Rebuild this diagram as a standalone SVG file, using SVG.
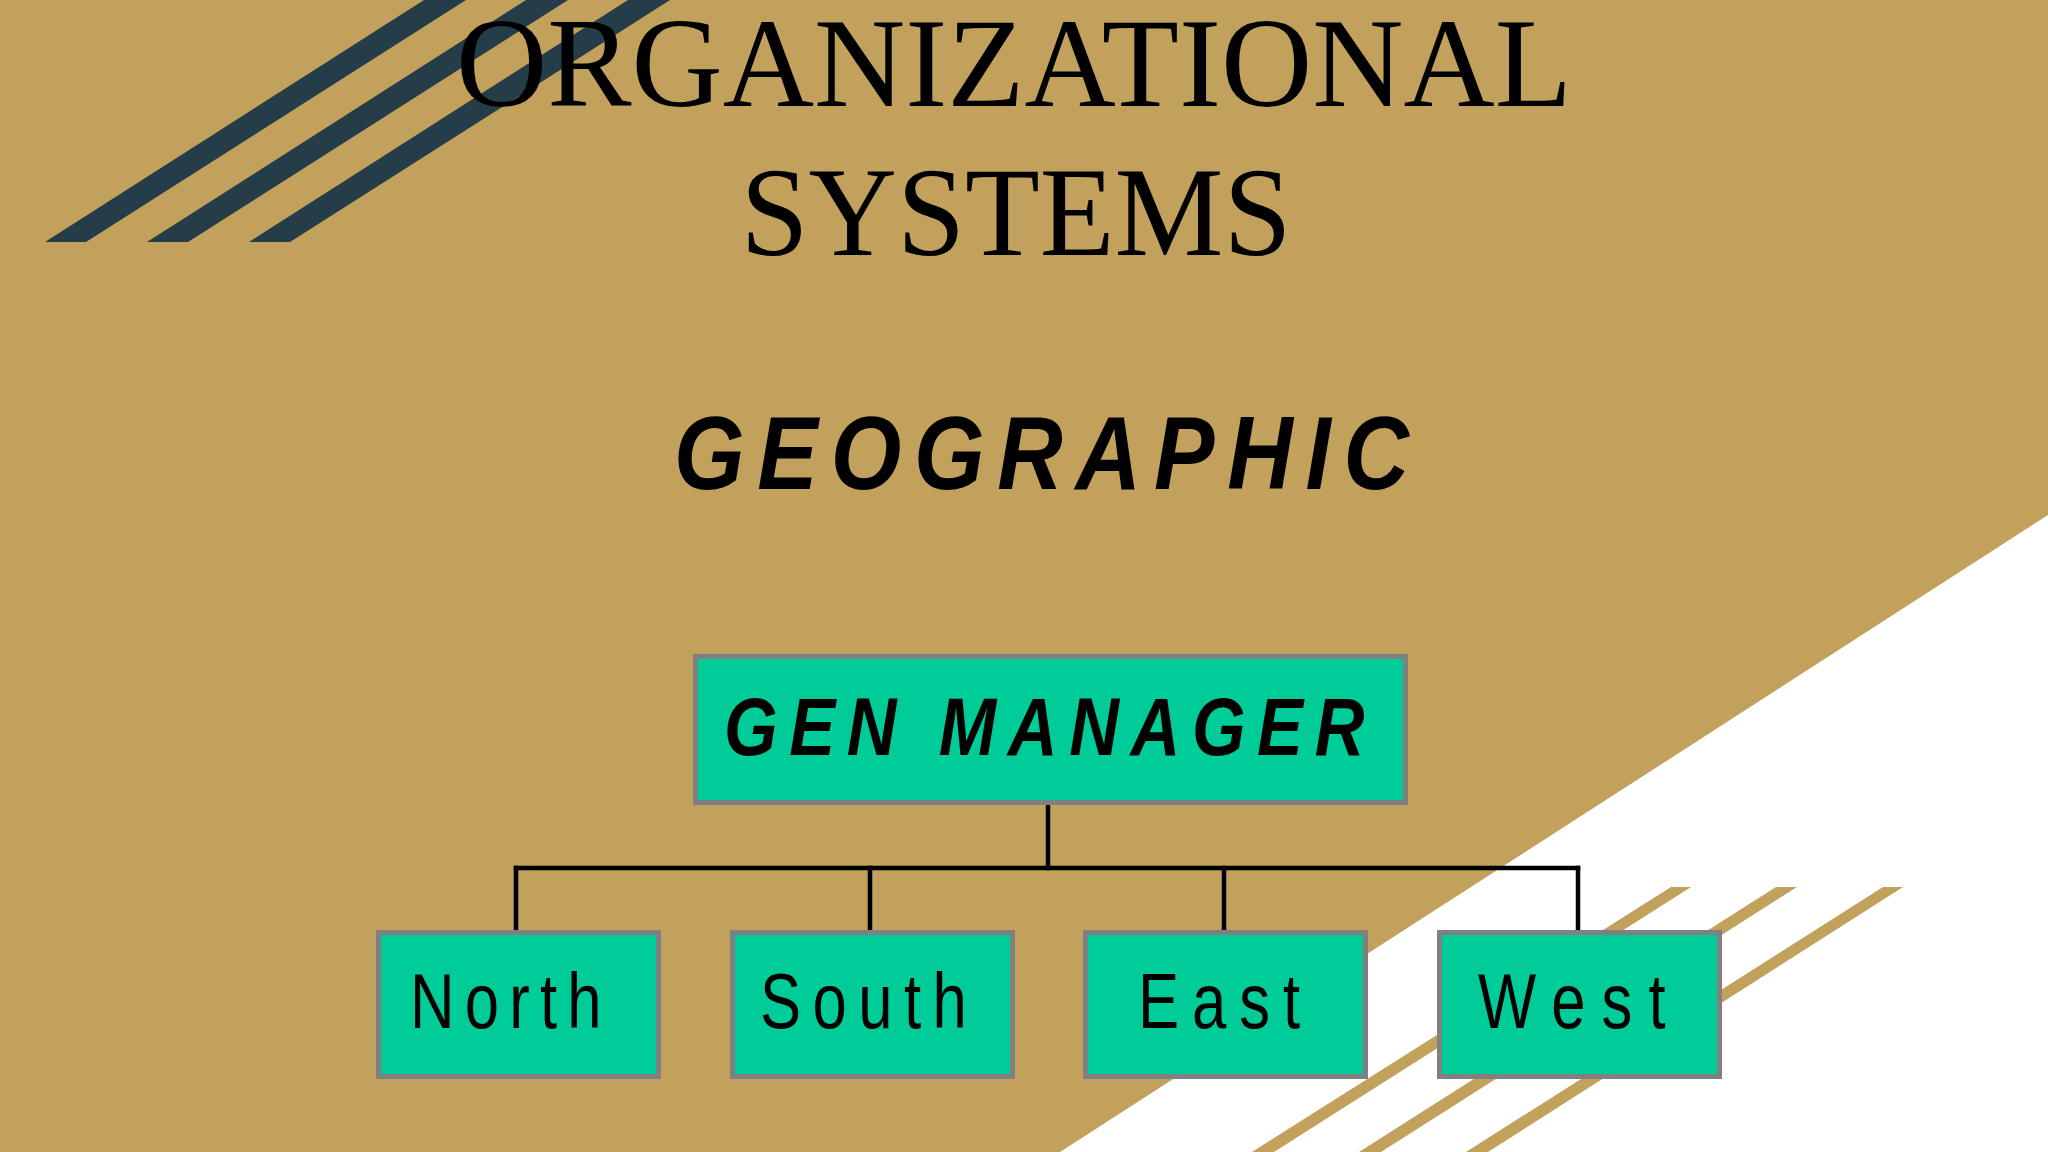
<svg xmlns="http://www.w3.org/2000/svg" width="2048" height="1152" viewBox="0 0 2048 1152">
  <style>
    .bg { fill: #C1A15C; }
    .dark { fill: #243D48; }
    .tan { fill: #C1A15C; }
    .box { fill: #00CC99; stroke: #808080; stroke-width: 5; }
    .conn { stroke: #000000; stroke-width: 4.5; fill: none; stroke-linecap: square; }
    .title { font-family: "Liberation Serif", "Times New Roman", serif; font-size: 127px; fill: #000; }
    .bi { font-family: "Liberation Sans", Arial, sans-serif; font-weight: bold; font-style: italic; fill: #000; }
    .lbl { font-family: "Liberation Sans", Arial, sans-serif; font-size: 77px; fill: #000; }
  </style>
  <rect class="bg" x="0" y="0" width="2048" height="1152"/>
  <polygon points="2048,515 2048,1152 1060,1152" fill="#FFFFFF"/>
  <g id="dark-stripes">
    <polygon class="dark" points="45,242 86,242 466,0 424,0"/>
    <polygon class="dark" points="147,242 188,242 568,0 526,0"/>
    <polygon class="dark" points="249,242 290,242 670,0 628,0"/>
  </g>
  <g id="light-stripes">
    <polygon class="tan" points="1671,887 1691,887 1274,1152 1252,1152"/>
    <polygon class="tan" points="1776,887 1797,887 1381,1152 1359,1152"/>
    <polygon class="tan" points="1883,887 1903,887 1488,1152 1466,1152"/>
  </g>
  <g id="title">
    <text class="title" x="1014" y="106" text-anchor="middle" textLength="1116" lengthAdjust="spacingAndGlyphs">ORGANIZATIONAL</text>
    <text class="title" x="1016" y="255" text-anchor="middle" textLength="551" lengthAdjust="spacingAndGlyphs">SYSTEMS</text>
  </g>
  <g id="subtitle">
    <text class="bi" font-size="103" letter-spacing="14.6" transform="translate(674,489) scale(0.88,1)">GEOGRAPHIC</text>
  </g>
  <g id="connectors">
    <line class="conn" x1="1048" y1="806" x2="1048" y2="868"/>
    <line class="conn" x1="516" y1="868" x2="1578" y2="868"/>
    <line class="conn" x1="516" y1="868" x2="516" y2="930"/>
    <line class="conn" x1="870" y1="868" x2="870" y2="930"/>
    <line class="conn" x1="1224" y1="868" x2="1224" y2="930"/>
    <line class="conn" x1="1578" y1="868" x2="1578" y2="930"/>
  </g>
  <g id="gen-manager">
    <rect class="box" x="695.5" y="656.5" width="710" height="146"/>
    <text class="bi" font-size="81" letter-spacing="13.7" transform="translate(724,755) scale(0.85,1)">GEN MANAGER</text>
  </g>
  <g id="north">
    <rect class="box" x="378.5" y="932.5" width="280" height="144"/>
    <text class="lbl" letter-spacing="12.8" transform="translate(410,1028) scale(0.8,1)">North</text>
  </g>
  <g id="south">
    <rect class="box" x="732.5" y="932.5" width="280" height="144"/>
    <text class="lbl" letter-spacing="14.3" transform="translate(760,1028) scale(0.8,1)">South</text>
  </g>
  <g id="east">
    <rect class="box" x="1085.5" y="932.5" width="280" height="144"/>
    <text class="lbl" letter-spacing="16.2" transform="translate(1138,1028) scale(0.8,1)">East</text>
  </g>
  <g id="west">
    <rect class="box" x="1439.5" y="932.5" width="280" height="144"/>
    <text class="lbl" letter-spacing="20.2" transform="translate(1478,1028) scale(0.8,1)">West</text>
  </g>
</svg>
